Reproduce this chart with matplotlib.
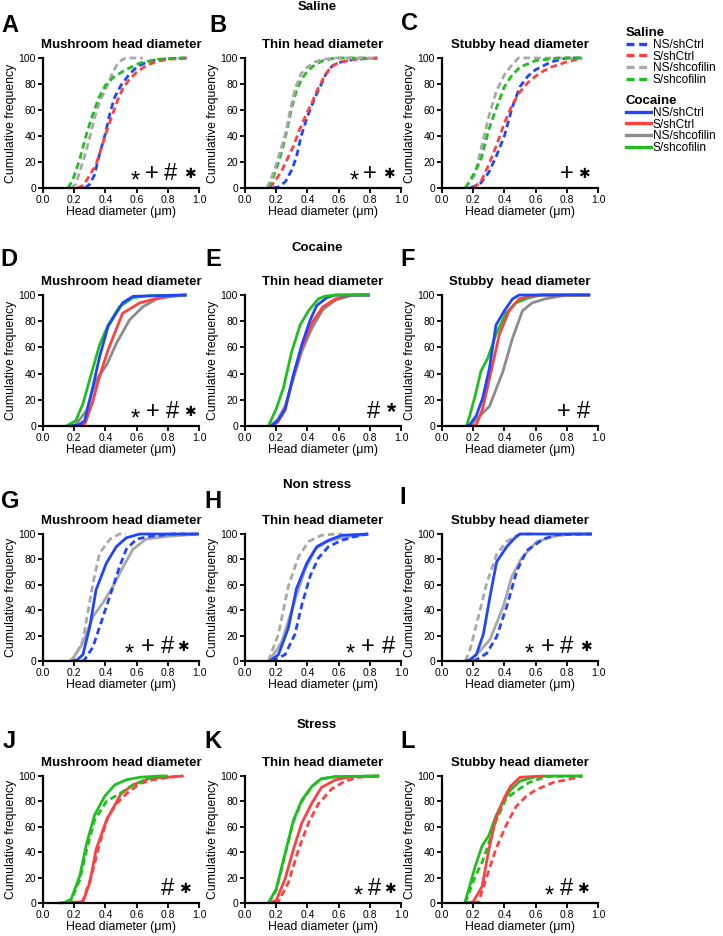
import matplotlib
matplotlib.use("Agg")
import matplotlib.pyplot as plt
from matplotlib.lines import Line2D

plt.rcParams['font.family'] = ['Liberation Sans', 'DejaVu Sans']

# colours
BLUE = "#1f45ff"
RED = "#ff4040"
GREEN = "#1fbf1f"
GRAY_D = "#a8a8a8"
GRAY_S = "#8c8c8c"

# ---- A: Saline, mushroom (dashed) ----
A_ns_ctrl_x = [0.27, 0.30, 0.33, 0.36, 0.40, 0.43, 0.46, 0.50, 0.55, 0.60, 0.65, 0.70, 0.80, 0.92]
A_ns_ctrl_y = [0, 3, 10, 25, 42, 58, 70, 79, 87, 93, 96, 98, 99.5, 100]
A_s_ctrl_x = [0.22, 0.26, 0.30, 0.34, 0.38, 0.42, 0.45, 0.48, 0.51, 0.55, 0.60, 0.66, 0.72, 0.80, 0.92]
A_s_ctrl_y = [0, 2, 10, 18, 33, 48, 58, 68, 76, 83, 89, 94, 97, 99, 100]
A_ns_cof_x = [0.18, 0.21, 0.25, 0.28, 0.31, 0.34, 0.37, 0.41, 0.44, 0.47, 0.50, 0.53, 0.64]
A_ns_cof_y = [0, 3, 18, 30, 44, 58, 68, 78, 87, 94, 98, 100, 100]
A_s_cof_x = [0.16, 0.19, 0.235, 0.28, 0.32, 0.36, 0.40, 0.45, 0.53, 0.62, 0.73, 0.90]
A_s_cof_y = [0, 6, 22, 42, 57, 70, 79, 85, 91, 96, 99, 100]

# ---- B: Saline, thin (dashed) ----
B_ns_ctrl_x = [0.18, 0.22, 0.26, 0.30, 0.33, 0.36, 0.40, 0.45, 0.49, 0.52, 0.56, 0.60, 0.70, 0.85]
B_ns_ctrl_y = [0, 1, 5, 14, 24, 40, 55, 70, 80, 88, 94, 96.5, 99, 100]
B_s_ctrl_x = [0.16, 0.19, 0.23, 0.27, 0.31, 0.35, 0.39, 0.43, 0.47, 0.51, 0.55, 0.60, 0.70, 0.85]
B_s_ctrl_y = [0, 5, 12, 22, 32, 45, 56, 66, 77, 86, 93, 96.5, 99, 100]
B_ns_cof_x = [0.14, 0.17, 0.20, 0.23, 0.26, 0.29, 0.32, 0.36, 0.40, 0.45, 0.50, 0.58, 0.85]
B_ns_cof_y = [0, 8, 18, 30, 42, 60, 76, 88, 93, 97, 99, 100, 100]
B_s_cof_x = [0.15, 0.18, 0.21, 0.24, 0.27, 0.30, 0.33, 0.36, 0.40, 0.45, 0.50, 0.58, 0.80]
B_s_cof_y = [0, 8, 18, 30, 45, 62, 75, 83, 90, 95, 98, 100, 100]

# ---- C: Saline, stubby (dashed) ----
C_ns_ctrl_x = [0.18, 0.22, 0.25, 0.30, 0.35, 0.40, 0.45, 0.50, 0.55, 0.60, 0.70, 0.80, 0.90]
C_ns_ctrl_y = [0, 2, 4, 12, 25, 40, 62, 78, 86, 91, 97, 100, 100]
C_s_ctrl_x = [0.20, 0.25, 0.30, 0.35, 0.40, 0.45, 0.50, 0.55, 0.60, 0.65, 0.70, 0.80, 0.90]
C_s_ctrl_y = [0, 5, 18, 33, 50, 64, 74, 81, 86, 90, 93, 97, 100]
C_ns_cof_x = [0.15, 0.18, 0.21, 0.25, 0.30, 0.35, 0.40, 0.45, 0.49, 0.90]
C_ns_cof_y = [0, 5, 10, 30, 55, 75, 87, 95, 100, 100]
C_s_cof_x = [0.15, 0.20, 0.25, 0.30, 0.35, 0.40, 0.45, 0.50, 0.60, 0.75, 0.90]
C_s_cof_y = [0, 10, 22, 45, 62, 78, 87, 93, 98, 100, 100]

# ---- D: Cocaine, mushroom (solid) ----
D_ns_ctrl_x = [0.18, 0.23, 0.267, 0.32, 0.363, 0.417, 0.51, 0.577, 0.92]
D_ns_ctrl_y = [0, 1, 4, 30, 53, 76, 94, 99, 100]
D_s_ctrl_x = [0.20, 0.27, 0.32, 0.36, 0.417, 0.46, 0.51, 0.62, 0.75, 0.92]
D_s_ctrl_y = [0, 2, 19, 37, 58, 71, 86, 94, 98, 100]
D_ns_cof_x = [0.17, 0.21, 0.28, 0.34, 0.41, 0.47, 0.555, 0.64, 0.73, 0.83, 0.92]
D_ns_cof_y = [0, 1, 12, 35, 47, 63, 81, 91, 97, 99.5, 100]
D_s_cof_x = [0.15, 0.21, 0.256, 0.31, 0.363, 0.417, 0.49, 0.577, 0.68, 0.92]
D_s_cof_y = [0, 4, 17, 40, 62, 77, 91, 98, 99.5, 100]

# ---- E: Cocaine, thin (solid) ----
E_ns_ctrl_x = [0.17, 0.21, 0.257, 0.31, 0.364, 0.418, 0.46, 0.525, 0.58, 0.80]
E_ns_ctrl_y = [0, 4, 13, 39, 62, 81, 92, 98, 100, 100]
E_s_ctrl_x = [0.17, 0.21, 0.257, 0.31, 0.364, 0.43, 0.50, 0.58, 0.64, 0.70, 0.80]
E_s_ctrl_y = [0, 3, 12, 38, 60, 79, 91, 97, 99, 100, 100]
E_ns_cof_x = [0.16, 0.21, 0.257, 0.31, 0.364, 0.43, 0.50, 0.58, 0.66, 0.70, 0.80]
E_ns_cof_y = [0, 5, 15, 36, 57, 75, 89, 96, 99, 100, 100]
E_s_cof_x = [0.15, 0.20, 0.246, 0.30, 0.353, 0.407, 0.47, 0.51, 0.58, 0.80]
E_s_cof_y = [0, 13, 29, 57, 77, 88, 97, 99, 100, 100]

# ---- F: Cocaine, stubby (solid) ----
F_ns_ctrl_x = [0.16, 0.178, 0.22, 0.26, 0.304, 0.346, 0.40, 0.452, 0.495, 0.95]
F_ns_ctrl_y = [0, 1, 8, 21, 44, 77, 88, 97, 100, 100]
F_s_ctrl_x = [0.19, 0.22, 0.26, 0.304, 0.368, 0.43, 0.495, 0.558, 0.62, 0.95]
F_s_ctrl_y = [0, 1, 13, 36, 70, 88, 97, 99, 100, 100]
F_ns_cof_x = [0.18, 0.22, 0.304, 0.389, 0.452, 0.516, 0.578, 0.66, 0.75, 0.81, 0.95]
F_ns_cof_y = [0, 5, 15, 41, 67, 88, 94, 97, 99, 100, 100]
F_s_cof_x = [0.157, 0.178, 0.21, 0.25, 0.294, 0.346, 0.41, 0.473, 0.558, 0.64, 0.95]
F_s_cof_y = [0, 8, 22, 42, 52, 70, 86, 94, 98, 100, 100]

# ---- G: Non stress, mushroom ----
G_sal_ctrl_x = [0.25, 0.267, 0.32, 0.385, 0.45, 0.49, 0.534, 0.60, 0.68, 0.83, 1.0]
G_sal_ctrl_y = [0, 1, 11, 35, 59, 74, 88, 96, 98, 100, 100]
G_sal_cof_x = [0.17, 0.20, 0.256, 0.29, 0.32, 0.363, 0.43, 0.49, 0.53]
G_sal_cof_y = [0, 3, 16, 40, 61, 85, 96, 100, 100]
G_coc_ctrl_x = [0.19, 0.22, 0.256, 0.30, 0.34, 0.406, 0.47, 0.534, 0.62, 1.0]
G_coc_ctrl_y = [0, 1, 5, 27, 56, 77, 90, 97, 100, 100]
G_coc_cof_x = [0.18, 0.256, 0.32, 0.385, 0.45, 0.513, 0.577, 0.66, 0.79, 1.0]
G_coc_cof_y = [0, 14, 35, 46, 59, 74, 88, 96, 98, 100]

# ---- H: Non stress, thin ----
H_sal_ctrl_x = [0.17, 0.257, 0.32, 0.364, 0.418, 0.47, 0.535, 0.62, 0.707, 0.79]
H_sal_ctrl_y = [0, 5, 21, 44, 67, 81, 90, 95, 98, 100]
H_sal_cof_x = [0.15, 0.214, 0.278, 0.343, 0.407, 0.49, 0.58, 0.62]
H_sal_cof_y = [0, 21, 59, 82, 94, 99, 100, 100]
H_coc_ctrl_x = [0.16, 0.214, 0.278, 0.33, 0.396, 0.46, 0.535, 0.62, 0.79]
H_coc_ctrl_y = [0, 5, 26, 57, 77, 90, 95, 99, 100]
H_coc_cof_x = [0.15, 0.20, 0.235, 0.31, 0.385, 0.45, 0.525, 0.62, 0.79]
H_coc_cof_y = [0, 8, 15, 44, 72, 88, 94, 97, 100]

# ---- I: Non stress, stubby ----
I_sal_ctrl_x = [0.20, 0.22, 0.286, 0.35, 0.415, 0.48, 0.543, 0.65, 0.735, 0.96]
I_sal_ctrl_y = [0, 1, 6, 19, 43, 71, 87, 96, 99.5, 100]
I_sal_cof_x = [0.15, 0.18, 0.244, 0.286, 0.35, 0.415, 0.48, 0.51, 0.60]
I_sal_cof_y = [0, 9, 40, 61, 84, 94, 99, 100, 100]
I_coc_ctrl_x = [0.15, 0.18, 0.22, 0.265, 0.308, 0.35, 0.415, 0.468, 0.50, 0.96]
I_coc_ctrl_y = [0, 1, 5, 21, 51, 78, 90, 97, 100, 100]
I_coc_cof_x = [0.16, 0.18, 0.244, 0.308, 0.393, 0.446, 0.51, 0.607, 0.714, 0.82, 0.96]
I_coc_cof_y = [0, 1, 8, 17, 43, 66, 81, 94, 98, 100, 100]

# ---- J: Stress, mushroom ----
J_sal_ctrl_x = [0.25, 0.31, 0.363, 0.417, 0.47, 0.534, 0.62, 0.705, 0.81, 0.90]
J_sal_ctrl_y = [0, 21, 47, 68, 78, 86, 94, 97, 99, 100]
J_sal_cof_x = [0.15, 0.18, 0.235, 0.28, 0.33, 0.406, 0.49, 0.577, 0.68, 0.79]
J_sal_cof_y = [0, 2, 18, 42, 65, 80, 86, 93, 98, 100]
J_coc_ctrl_x = [0.10, 0.256, 0.30, 0.34, 0.406, 0.50, 0.577, 0.68, 0.90]
J_coc_ctrl_y = [0, 1, 16, 42, 65, 86, 93, 98, 100]
J_coc_cof_x = [0.13, 0.18, 0.235, 0.28, 0.33, 0.395, 0.46, 0.534, 0.62, 0.75, 0.80]
J_coc_cof_y = [0, 3, 21, 47, 69, 84, 93, 97, 99, 100, 100]

# ---- K: Stress, thin ----
K_sal_ctrl_x = [0.19, 0.214, 0.278, 0.343, 0.407, 0.47, 0.557, 0.643, 0.73, 0.86]
K_sal_ctrl_y = [0, 1, 16, 42, 63, 78, 90, 96, 99, 100]
K_sal_cof_x = [0.15, 0.20, 0.257, 0.31, 0.364, 0.43, 0.49, 0.58, 0.86]
K_sal_cof_y = [0, 10, 38, 64, 80, 92, 97.5, 99.5, 100]
K_coc_ctrl_x = [0.15, 0.20, 0.257, 0.31, 0.364, 0.43, 0.49, 0.58, 0.685, 0.86]
K_coc_ctrl_y = [0, 2, 19, 42, 63, 79, 91, 97, 99.5, 100]
K_coc_cof_x = [0.15, 0.20, 0.257, 0.31, 0.364, 0.43, 0.49, 0.58, 0.86]
K_coc_cof_y = [0, 11, 39, 65, 81, 92, 98, 99.5, 100]

# ---- L: Stress, stubby ----
L_sal_ctrl_x = [0.20, 0.235, 0.28, 0.344, 0.41, 0.475, 0.54, 0.60, 0.715, 0.80, 0.90]
L_sal_ctrl_y = [0, 1, 18, 42, 61, 76, 84, 89, 95, 97, 100]
L_sal_cof_x = [0.15, 0.17, 0.213, 0.257, 0.30, 0.344, 0.41, 0.486, 0.56, 0.67, 0.90]
L_sal_cof_y = [0, 7, 21, 32, 47, 64, 82, 89, 95, 99.5, 100]
L_coc_ctrl_x = [0.15, 0.20, 0.257, 0.30, 0.344, 0.40, 0.44, 0.50, 0.65]
L_coc_ctrl_y = [0, 1, 13, 42, 66, 83, 92, 99, 100]
L_coc_cof_x = [0.145, 0.17, 0.213, 0.257, 0.30, 0.344, 0.387, 0.44, 0.50, 0.60, 0.69, 0.90]
L_coc_cof_y = [0, 10, 29, 45, 53, 68, 79, 89, 96, 99.5, 100, 100]

# significance symbols per panel: (symbol, x position in data units)
A_sig = [("*", 0.59), ("+", 0.70), ("#", 0.82), ("✱", 0.94)]
B_sig = [("*", 0.70), ("+", 0.80), ("✱", 0.92)]
C_sig = [("+", 0.80), ("✱", 0.91)]
D_sig = [("*", 0.59), ("+", 0.705), ("#", 0.83), ("✱", 0.94)]
E_sig = [("#", 0.825), ("*b", 0.94)]
F_sig = [("+", 0.78), ("#", 0.91)]
G_sig = [("*", 0.555), ("+", 0.67), ("#", 0.80), ("✱", 0.90)]
H_sig = [("*", 0.675), ("+", 0.79), ("#", 0.92)]
I_sig = [("*", 0.56), ("+", 0.675), ("#", 0.80), ("✱", 0.92)]
J_sig = [("#", 0.80), ("✱", 0.91)]
K_sig = [("*", 0.724), ("#", 0.83), ("✱", 0.93)]
L_sig = [("*", 0.686), ("#", 0.795), ("✱", 0.906)]

W, H = 723, 936
fig = plt.figure(figsize=(W / 100, H / 100), dpi=100)

cols = [(43, 199), (245, 401), (442, 598)]
rows = [(58, 188), (295, 426), (534, 661), (776, 903)]

DASH = (0, (2.4, 1.4))


def make_axes(col, row):
    l, r = cols[col]
    t, b = rows[row]
    return fig.add_axes([l / W, 1 - b / H, (r - l) / W, (b - t) / H])


def style(ax, title):
    ax.set_xlim(0, 1)
    ax.set_ylim(0, 100)
    ax.set_xticks([0, 0.2, 0.4, 0.6, 0.8, 1.0])
    ax.set_xticklabels(["0.0", "0.2", "0.4", "0.6", "0.8", "1.0"])
    ax.set_yticks([0, 20, 40, 60, 80, 100])
    for s in ["top", "right"]:
        ax.spines[s].set_visible(False)
    for s in ["left", "bottom"]:
        ax.spines[s].set_linewidth(1.6)
    ax.tick_params(direction="out", length=3.5, width=1.3, labelsize=7.5, pad=1.5)
    ax.set_title(title, fontsize=9.5, fontweight="bold", pad=7)
    ax.set_xlabel("Head diameter (μm)", fontsize=8.8, labelpad=1)
    ax.set_ylabel("Cumulative frequency", fontsize=8.8, labelpad=1)


def curve(ax, x, y, color, ls):
    ax.plot(x, y, color=color, lw=2.0, ls=ls, clip_on=False,
            solid_capstyle="butt", dash_capstyle="butt")


def sig(ax, marks, y=11):
    for sym, x in marks:
        if sym == "*":
            ax.text(x, y - 6, "*", fontsize=17, ha="center", va="center")
        elif sym == "*b":
            ax.text(x, y - 1, "*", fontsize=17, fontweight="bold", ha="center", va="center")
        elif sym == "✱":
            ax.text(x, y, "✱", fontsize=10, ha="center", va="center", family="DejaVu Sans")
        else:
            ax.text(x, y, sym, fontsize=17, ha="center", va="center")


panels = [
    ("A", 0, 0, "Mushroom head diameter", A_sig, [
        (A_ns_ctrl_x, A_ns_ctrl_y, BLUE, DASH), (A_s_ctrl_x, A_s_ctrl_y, RED, DASH),
        (A_ns_cof_x, A_ns_cof_y, GRAY_D, DASH), (A_s_cof_x, A_s_cof_y, GREEN, DASH)]),
    ("B", 1, 0, "Thin head diameter", B_sig, [
        (B_ns_ctrl_x, B_ns_ctrl_y, BLUE, DASH), (B_s_ctrl_x, B_s_ctrl_y, RED, DASH),
        (B_s_cof_x, B_s_cof_y, GREEN, DASH), (B_ns_cof_x, B_ns_cof_y, GRAY_D, DASH)]),
    ("C", 2, 0, "Stubby head diameter", C_sig, [
        (C_ns_ctrl_x, C_ns_ctrl_y, BLUE, DASH), (C_s_ctrl_x, C_s_ctrl_y, RED, DASH),
        (C_ns_cof_x, C_ns_cof_y, GRAY_D, DASH), (C_s_cof_x, C_s_cof_y, GREEN, DASH)]),
    ("D", 0, 1, "Mushroom head diameter", D_sig, [
        (D_ns_cof_x, D_ns_cof_y, GRAY_S, "-"), (D_s_ctrl_x, D_s_ctrl_y, RED, "-"),
        (D_s_cof_x, D_s_cof_y, GREEN, "-"), (D_ns_ctrl_x, D_ns_ctrl_y, BLUE, "-")]),
    ("E", 1, 1, "Thin head diameter", E_sig, [
        (E_ns_cof_x, E_ns_cof_y, GRAY_S, "-"), (E_s_ctrl_x, E_s_ctrl_y, RED, "-"),
        (E_ns_ctrl_x, E_ns_ctrl_y, BLUE, "-"), (E_s_cof_x, E_s_cof_y, GREEN, "-")]),
    ("F", 2, 1, "Stubby  head diameter", F_sig, [
        (F_ns_cof_x, F_ns_cof_y, GRAY_S, "-"), (F_s_cof_x, F_s_cof_y, GREEN, "-"),
        (F_s_ctrl_x, F_s_ctrl_y, RED, "-"), (F_ns_ctrl_x, F_ns_ctrl_y, BLUE, "-")]),
    ("G", 0, 2, "Mushroom head diameter", G_sig, [
        (G_coc_cof_x, G_coc_cof_y, GRAY_D, "-"), (G_sal_cof_x, G_sal_cof_y, GRAY_D, DASH),
        (G_coc_ctrl_x, G_coc_ctrl_y, BLUE, "-"), (G_sal_ctrl_x, G_sal_ctrl_y, BLUE, DASH)]),
    ("H", 1, 2, "Thin head diameter", H_sig, [
        (H_coc_cof_x, H_coc_cof_y, GRAY_D, "-"), (H_sal_cof_x, H_sal_cof_y, GRAY_D, DASH),
        (H_coc_ctrl_x, H_coc_ctrl_y, BLUE, "-"), (H_sal_ctrl_x, H_sal_ctrl_y, BLUE, DASH)]),
    ("I", 2, 2, "Stubby head diameter", I_sig, [
        (I_coc_cof_x, I_coc_cof_y, GRAY_D, "-"), (I_sal_cof_x, I_sal_cof_y, GRAY_D, DASH),
        (I_coc_ctrl_x, I_coc_ctrl_y, BLUE, "-"), (I_sal_ctrl_x, I_sal_ctrl_y, BLUE, DASH)]),
    ("J", 0, 3, "Mushroom head diameter", J_sig, [
        (J_sal_ctrl_x, J_sal_ctrl_y, RED, DASH), (J_coc_ctrl_x, J_coc_ctrl_y, RED, "-"),
        (J_coc_cof_x, J_coc_cof_y, GREEN, "-"), (J_sal_cof_x, J_sal_cof_y, GREEN, DASH)]),
    ("K", 1, 3, "Thin head diameter", K_sig, [
        (K_sal_ctrl_x, K_sal_ctrl_y, RED, DASH), (K_coc_ctrl_x, K_coc_ctrl_y, RED, "-"),
        (K_coc_cof_x, K_coc_cof_y, GREEN, "-"), (K_sal_cof_x, K_sal_cof_y, GREEN, DASH)]),
    ("L", 2, 3, "Stubby head diameter", L_sig, [
        (L_sal_ctrl_x, L_sal_ctrl_y, RED, DASH), (L_sal_cof_x, L_sal_cof_y, GREEN, DASH),
        (L_coc_cof_x, L_coc_cof_y, GREEN, "-"), (L_coc_ctrl_x, L_coc_ctrl_y, RED, "-")]),
]

letter_pos = {"A": (10, 25), "B": (218, 25), "C": (410, 23),
              "D": (9, 260), "E": (213, 260), "F": (408, 260),
              "G": (10, 502), "H": (213, 502), "I": (403, 498),
              "J": (9, 742), "K": (213, 742), "L": (408, 742)}

for letter, c, r, title, marks, curves in panels:
    ax = make_axes(c, r)
    style(ax, title)
    for x, y, color, ls in curves:
        curve(ax, x, y, color, ls)
    sig(ax, marks)
    px, py = letter_pos[letter]
    fig.text(px / W, 1 - py / H, letter, fontsize=17, fontweight="bold",
             ha="center", va="center")

# group headings
for label, py in [("Saline", 7), ("Cocaine", 248), ("Non stress", 485), ("Stress", 725)]:
    fig.text(317 / W, 1 - py / H, label, fontsize=9.5, fontweight="bold",
             ha="center", va="center")

# legends
names = ["NS/shCtrl", "S/shCtrl", "NS/shcofilin", "S/shcofilin"]
sal_handles = [Line2D([], [], color=c, lw=2.4, ls=DASH) for c in [BLUE, RED, GRAY_D, GREEN]]
coc_handles = [Line2D([], [], color=c, lw=2.4) for c in [BLUE, RED, GRAY_S, GREEN]]
for handles, title, py in [(sal_handles, "Saline", 27), (coc_handles, "Cocaine", 95)]:
    leg = fig.legend(handles, names, title=title, loc="upper left",
                     bbox_to_anchor=(626 / W, 1 - py / H), frameon=False,
                     fontsize=8.6, handlelength=2.1, handletextpad=0.15,
                     labelspacing=-0.02, borderpad=0, borderaxespad=0,
                     alignment="left",
                     title_fontproperties={"weight": "bold", "size": 9.5})

fig.savefig("out.png", dpi=100)
